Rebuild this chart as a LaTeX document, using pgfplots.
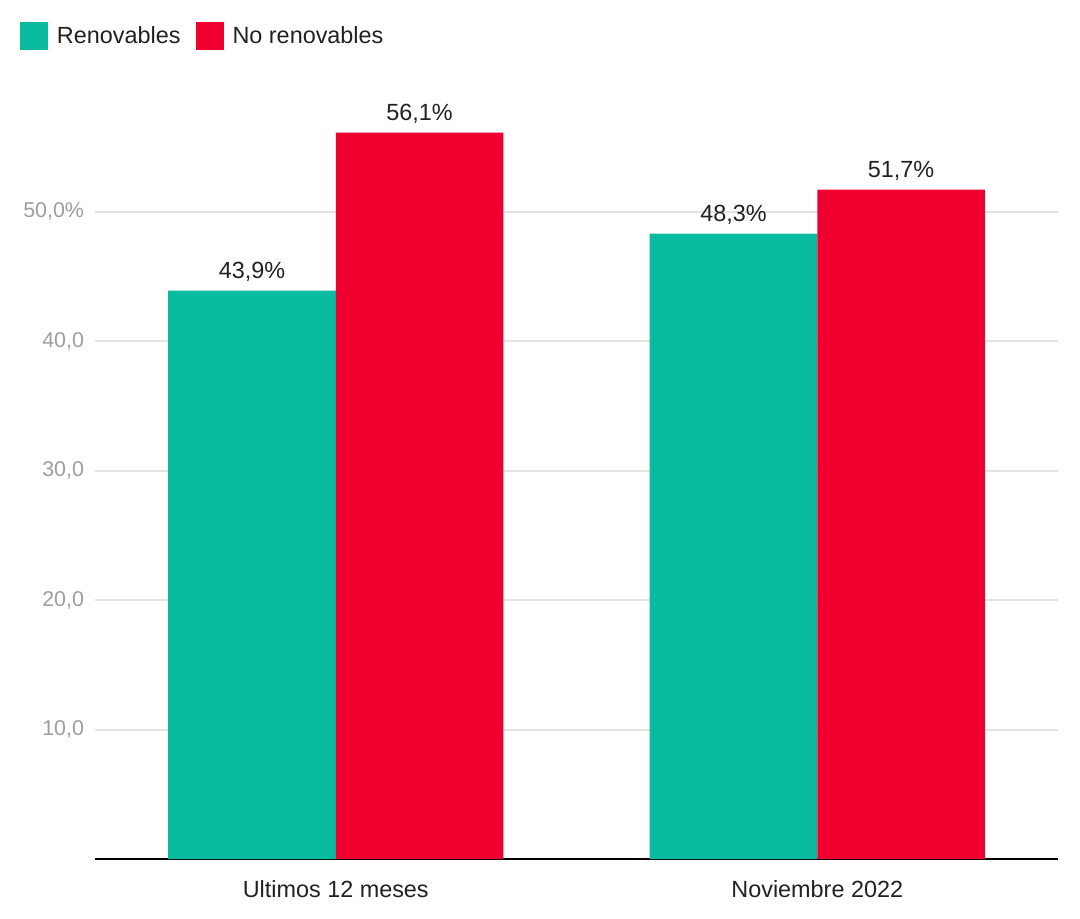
\documentclass[border=0pt]{standalone}
\usepackage{pgfplots}
\pgfplotsset{compat=1.18}
\usepackage{fontspec}
\setmainfont{Liberation Sans}
\definecolor{teal1}{HTML}{0ABC9F}
\definecolor{red1}{HTML}{F0002F}
\definecolor{tickgrey}{HTML}{9E9E9E}
\definecolor{gridgrey}{HTML}{E3E3E3}
\definecolor{txt}{HTML}{212121}
\begin{document}
\begin{tikzpicture}
\begin{axis}[
  at={(47.5pt,29.5pt)}, anchor=south west,
  scale only axis,
  width=481.5pt, height=382pt,
  ymin=0, ymax=59,
  xmin=-0.5, xmax=1.5,
  ybar=0pt, bar width=0.348,
  /pgf/number format/assume math mode=true,
  xtick={0,1}, xticklabels={Ultimos 12 meses, Noviembre 2022},
  ytick={10,20,30,40,50},
  yticklabels={{10,0},{20,0},{30,0},{40,0},{50,0\%}},
  xtick style={draw=none}, ytick style={draw=none},
  axis x line*=bottom, axis y line*=left,
  x axis line style={black, line width=1pt, -},
  y axis line style={draw=none},
  ymajorgrids, grid style={gridgrey, line width=1pt},
  yticklabel style={font=\fontsize{10.7pt}{12pt}\selectfont, text=tickgrey, anchor=east, xshift=-2pt},
  xticklabel style={font=\fontsize{11.7pt}{13pt}\selectfont, text=txt, yshift=-3pt},
  nodes near coords={\pgfmathprintnumber[fixed,fixed zerofill,precision=1,use comma]{\pgfplotspointmeta}\%},
  every node near coord/.append style={font=\fontsize{11.7pt}{13pt}\selectfont, text=txt, yshift=1pt},
  legend columns=2,
  legend style={at={(axis description cs:-0.0779,1.0955)}, anchor=north west, draw=none, inner sep=0pt, outer sep=0pt,
    font=\fontsize{11.7pt}{13pt}\selectfont, text=txt,
    /tikz/every odd column/.append style={column sep=2.5pt},
    /tikz/every even column/.append style={column sep=5.5pt}},
  legend image code/.code={\fill[#1] (0pt,-7pt) rectangle (14pt,7pt);},
  clip=false,
]
\addplot[fill=teal1, draw=none] coordinates {(0,43.9) (1,48.3)};
\addplot[fill=red1, draw=none] coordinates {(0,56.1) (1,51.7)};
\legend{Renovables, No renovables}
\end{axis}
\pgfresetboundingbox
\path[use as bounding box] (0,0) rectangle (540pt,459pt);
\end{tikzpicture}
\end{document}
